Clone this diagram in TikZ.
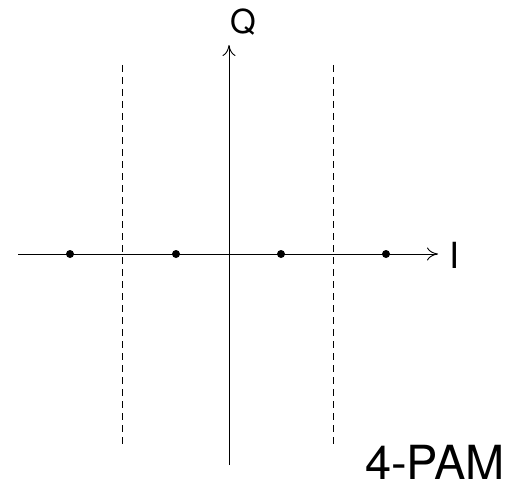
\documentclass[tikz,border=0pt]{standalone}
\usepackage{fontspec}
\setmainfont{TeX Gyre Heros}
\usetikzlibrary{arrows.meta}
\begin{document}
\begin{tikzpicture}[x=1pt,y=-1pt,
  axis/.style={line width=0.9pt,-{To[length=11pt,width=13pt]}},
  guide/.style={line width=0.9pt,dash pattern=on 7pt off 5pt},
  pt/.style={circle,fill=black,inner sep=0pt,minimum size=8pt},
  lbl/.style={inner sep=0pt,font=\fontsize{33}{33}\selectfont}]
\useasboundingbox (0,0) rectangle (520,487);
\coordinate (hl) at (18,254);
\coordinate (hr) at (438,254);
\coordinate (vb) at (229,465);
\coordinate (vt) at (229,45);
\draw[axis] (hl) -- (hr);
\draw[axis] (vb) -- (vt);
\coordinate (d1t) at (122,65);
\coordinate (d1b) at (122,445);
\coordinate (d2t) at (333,65);
\coordinate (d2b) at (333,445);
\draw[guide] (d1t) -- (d1b);
\draw[guide] (d2t) -- (d2b);
\node[pt] (p1) at (70,254) {};
\node[pt] (p2) at (176,254) {};
\node[pt] (p3) at (281,254) {};
\node[pt] (p4) at (386,254) {};
\node[lbl] (q) at (243,22) {Q};
\node[lbl,font=\fontsize{36}{36}\selectfont] (i) at (455,255) {I};
\node[anchor=base west,inner sep=0pt,font=\fontsize{47}{47}\selectfont] (pam) at (365,479) {4-PAM};
\end{tikzpicture}
\end{document}
